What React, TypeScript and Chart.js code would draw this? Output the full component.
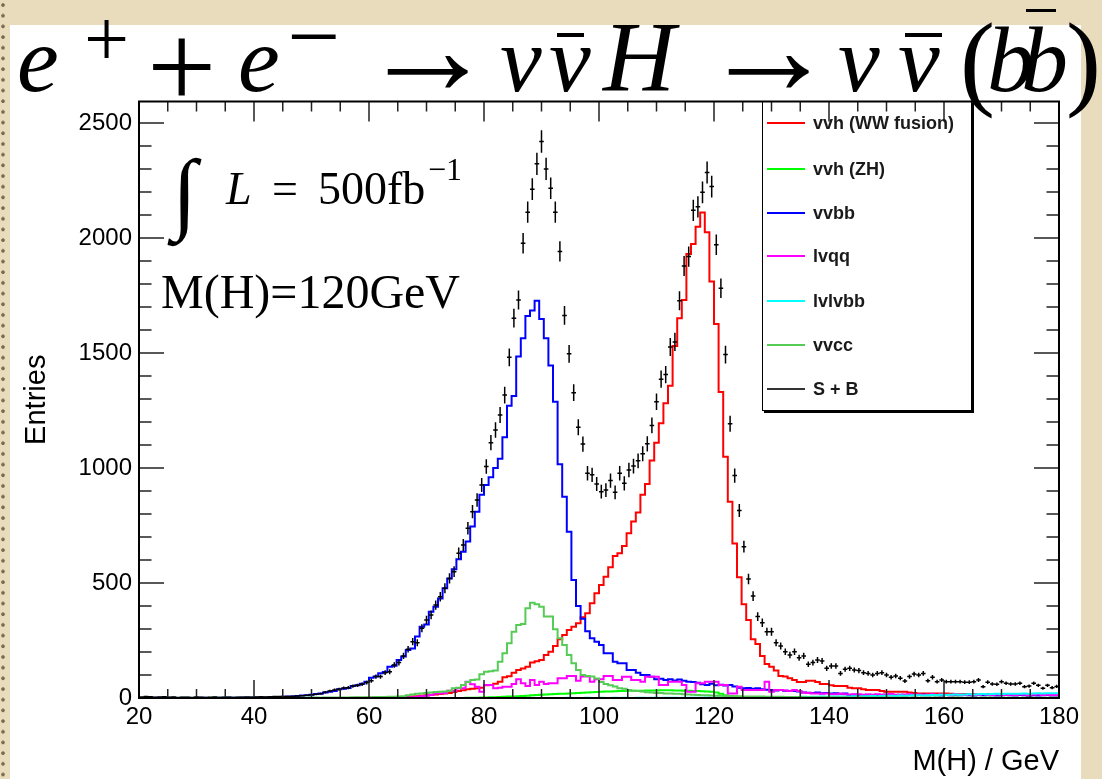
import React, { useEffect, useRef } from "react";
import { Chart, registerables } from "chart.js";

Chart.register(...registerables);

// ---------- axis definition ----------
const X_MIN = 20;
const X_MAX = 180;
const N_BINS = 200;
const Y_MIN = 0;
const Y_MAX = 2593;
const X_STEP = 20;
const Y_STEP = 500;
const xTickValues = [20, 40, 60, 80, 100, 120, 140, 160, 180];
const yTickValues = [0, 500, 1000, 1500, 2000, 2500];

const seriesLabels = ["vvh (WW fusion)", "vvh (ZH)", "vvbb", "lvqq", "lvlvbb", "vvcc", "S + B"];
const seriesColors = ["#ff0000", "#00ff00", "#0000ff", "#ff00ff", "#00ffff", "#55cc55", "#333333"];

// ---------- histogram contents (200 bins of 0.8 GeV from 20 to 180) ----------
const vvhWW = [
  0, 0, 0, 0, 0, 0, 0, 0, 0, 0,
  0, 0, 0, 0, 0, 0, 0, 0, 0, 0,
  0, 0, 0, 0, 0, 0, 0, 0, 0, 0,
  0, 0, 0, 0, 0, 0, 0, 0, 0, 0,
  0, 0, 0, 0, 0, 0, 0, 0, 1, 0,
  0, 1, 1, 1, 2, 2, 3, 3, 4, 5,
  6, 8, 10, 12, 14, 15, 17, 20, 22, 26,
  30, 34, 38, 40, 42, 45, 55, 57, 62, 71,
  90, 95, 110, 122, 128, 136, 154, 160, 165, 187,
  201, 226, 255, 274, 296, 310, 325, 351, 368, 412,
  455, 491, 527, 568, 617, 629, 661, 716, 767, 806,
  883, 930, 1032, 1110, 1194, 1281, 1357, 1530, 1651, 1730,
  1930, 1974, 2049, 2110, 2025, 1810, 1626, 1330, 1049, 853,
  672, 525, 407, 339, 255, 235, 183, 148, 136, 119,
  96, 93, 86, 78, 70, 70, 75, 75, 70, 61,
  61, 55, 52, 52, 52, 45, 42, 42, 38, 35,
  35, 35, 30, 27, 27, 27, 27, 27, 24, 22,
  20, 20, 20, 20, 20, 20, 20, 18, 16, 16,
  17, 16, 16, 15, 16, 16, 17, 15, 16, 16,
  15, 16, 16, 15, 14, 16, 15, 16, 15, 16,
];

const vvhZH = [
  0, 0, 0, 0, 0, 0, 0, 0, 0, 0,
  0, 0, 0, 0, 0, 0, 0, 0, 0, 0,
  0, 0, 0, 0, 0, 0, 0, 0, 0, 0,
  0, 0, 0, 0, 0, 0, 0, 0, 0, 0,
  0, 0, 0, 0, 0, 0, 0, 0, 0, 0,
  0, 0, 0, 0, 0, 0, 0, 0, 0, 0,
  0, 0, 0, 0, 0, 0, 0, 0, 0, 0,
  0, 0, 1, 1, 1, 2, 2, 3, 3, 4,
  5, 6, 7, 8, 9, 10, 12, 13, 14, 15,
  16, 17, 18, 19, 20, 21, 22, 23, 24, 25,
  26, 27, 28, 28, 29, 30, 30, 31, 31, 32,
  32, 33, 33, 33, 34, 34, 34, 33, 33, 32,
  31, 30, 30, 29, 28, 27, 24, 18, 12, 8,
  6, 4, 3, 3, 2, 2, 2, 1, 1, 1,
  1, 1, 1, 1, 1, 0, 1, 0, 0, 1,
  0, 1, 0, 0, 1, 0, 0, 1, 0, 0,
  0, 0, 1, 0, 0, 0, 1, 0, 0, 0,
  0, 0, 0, 1, 0, 0, 0, 0, 1, 0,
  0, 0, 0, 0, 0, 1, 0, 0, 0, 0,
  0, 0, 0, 0, 0, 0, 0, 0, 0, 0,
];

const vvbb = [
  1, 0, 1, 0, 1, 1, 0, 1, 1, 0,
  1, 1, 0, 1, 1, 1, 0, 1, 1, 1,
  2, 1, 1, 2, 1, 2, 2, 1, 2, 3,
  3, 4, 5, 6, 7, 9, 11, 12, 14, 17,
  20, 24, 27, 30, 38, 40, 44, 52, 55, 62,
  71, 88, 93, 108, 113, 136, 140, 165, 180, 209,
  215, 267, 310, 320, 375, 397, 433, 477, 520, 560,
  603, 636, 680, 745, 810, 883, 926, 960, 1000, 1040,
  1134, 1270, 1313, 1484, 1564, 1661, 1684, 1727, 1648, 1564,
  1445, 1288, 1016, 875, 723, 513, 400, 345, 290, 260,
  245, 230, 194, 194, 158, 151, 151, 122, 122, 110,
  100, 100, 92, 81, 84, 78, 81, 76, 80, 75,
  71, 70, 66, 60, 57, 62, 55, 58, 54, 57,
  50, 45, 42, 44, 40, 42, 38, 36, 35, 33,
  35, 32, 30, 30, 28, 24, 23, 22, 24, 21,
  22, 20, 21, 19, 20, 13, 14, 13, 12, 14,
  13, 12, 14, 13, 12, 13, 14, 12, 13, 12,
  13, 14, 12, 13, 12, 11, 13, 12, 14, 12,
  13, 12, 11, 13, 12, 14, 12, 11, 12, 13,
  12, 11, 13, 12, 10, 12, 11, 12, 13, 11,
];

const lvqq = [
  0, 0, 0, 0, 0, 0, 0, 0, 0, 0,
  0, 0, 0, 0, 0, 0, 0, 0, 0, 0,
  0, 0, 0, 0, 0, 0, 0, 0, 0, 0,
  0, 0, 0, 0, 0, 0, 0, 0, 0, 0,
  0, 0, 0, 0, 0, 0, 0, 0, 0, 0,
  1, 1, 1, 2, 2, 2, 2, 3, 3, 3,
  3, 5, 8, 10, 13, 20, 20, 22, 32, 32,
  42, 42, 71, 60, 49, 27, 57, 57, 42, 45,
  49, 49, 61, 81, 64, 52, 78, 57, 71, 61,
  64, 64, 86, 86, 96, 96, 75, 93, 93, 71,
  81, 81, 96, 96, 78, 78, 92, 92, 78, 78,
  71, 92, 92, 92, 57, 57, 71, 71, 71, 57,
  27, 27, 64, 64, 71, 71, 71, 57, 57, 20,
  20, 49, 35, 35, 35, 35, 35, 71, 27, 35,
  35, 33, 30, 35, 30, 24, 22, 20, 20, 18,
  20, 16, 16, 18, 16, 15, 16, 16, 14, 15,
  14, 16, 13, 15, 17, 14, 13, 15, 16, 14,
  15, 13, 14, 16, 13, 15, 14, 12, 15, 14,
  13, 15, 14, 13, 16, 14, 13, 15, 14, 13,
  14, 13, 15, 14, 12, 14, 15, 13, 14, 13,
];

const lvlvbb = [
  0, 0, 0, 0, 0, 0, 0, 0, 0, 0,
  0, 0, 0, 0, 0, 0, 0, 0, 0, 0,
  0, 0, 0, 0, 0, 0, 0, 0, 0, 0,
  0, 0, 0, 0, 0, 0, 0, 0, 0, 0,
  0, 0, 0, 0, 0, 0, 0, 0, 0, 0,
  0, 0, 0, 0, 0, 0, 0, 0, 0, 0,
  0, 0, 0, 0, 0, 0, 0, 0, 0, 0,
  0, 0, 0, 0, 0, 0, 0, 0, 0, 0,
  0, 0, 0, 0, 0, 0, 0, 0, 0, 0,
  0, 0, 0, 0, 1, 0, 0, 0, 1, 0,
  0, 1, 0, 0, 1, 0, 1, 0, 0, 1,
  1, 0, 1, 1, 0, 1, 1, 1, 0, 1,
  1, 1, 1, 1, 2, 1, 1, 2, 1, 2,
  1, 2, 2, 2, 2, 3, 2, 3, 3, 3,
  3, 4, 3, 4, 4, 5, 4, 5, 5, 6,
  5, 6, 6, 7, 6, 7, 8, 7, 8, 8,
  9, 8, 9, 10, 10, 9, 11, 10, 11, 12,
  12, 11, 12, 13, 13, 14, 13, 14, 15, 14,
  15, 16, 15, 16, 17, 16, 17, 18, 17, 18,
  19, 18, 19, 20, 19, 20, 21, 20, 21, 21,
];

const vvcc = [
  1, 0, 1, 1, 0, 1, 0, 1, 1, 0,
  1, 1, 0, 1, 1, 0, 1, 1, 1, 0,
  1, 1, 1, 1, 0, 1, 1, 1, 1, 1,
  1, 1, 1, 2, 1, 1, 2, 1, 2, 2,
  1, 2, 2, 2, 2, 2, 2, 3, 3, 3,
  3, 3, 4, 4, 4, 5, 5, 6, 8, 12,
  15, 18, 20, 22, 24, 26, 27, 28, 32, 42,
  45, 57, 70, 78, 80, 103, 114, 116, 120, 158,
  194, 238, 288, 317, 322, 390, 414, 407, 397, 354,
  354, 299, 260, 230, 187, 151, 122, 100, 96, 93,
  85, 70, 61, 55, 50, 42, 40, 35, 32, 30,
  28, 25, 24, 22, 22, 20, 20, 18, 18, 16,
  15, 14, 13, 12, 12, 11, 10, 10, 9, 9,
  8, 8, 7, 7, 6, 6, 6, 5, 5, 5,
  5, 4, 4, 4, 4, 3, 3, 3, 3, 3,
  3, 3, 3, 2, 3, 2, 2, 3, 2, 2,
  2, 2, 2, 2, 2, 1, 2, 2, 1, 2,
  1, 2, 1, 1, 2, 1, 1, 1, 2, 1,
  1, 1, 1, 1, 1, 1, 1, 1, 1, 1,
  1, 1, 0, 1, 1, 1, 0, 1, 1, 1,
];

const signalPlusBackground = [
  4, 6, 5, 3, 4, 5, 3, 4, 2, 3,
  3, 2, 4, 3, 2, 3, 4, 2, 3, 3,
  2, 3, 3, 4, 3, 4, 5, 4, 5, 6,
  6, 7, 7, 8, 9, 10, 12, 14, 16, 19,
  25, 30, 35, 38, 43, 45, 52, 55, 60, 67,
  75, 93, 93, 110, 114, 143, 154, 183, 212, 245,
  240, 303, 339, 361, 404, 440, 477, 520, 549, 629,
  665, 738, 810, 861, 926, 1006, 1110, 1165, 1230, 1317,
  1481, 1651, 1730, 1977, 2112, 2212, 2322, 2419, 2300, 2216,
  2112, 1941, 1663, 1496, 1327, 1177, 1104, 977, 970, 930,
  897, 904, 945, 894, 977, 933, 991, 1008, 1031, 1062,
  1105, 1185, 1288, 1386, 1406, 1526, 1548, 1727, 1878, 1919,
  2120, 2135, 2198, 2284, 2223, 1970, 1781, 1493, 1192, 967,
  815, 658, 517, 443, 354, 327, 288, 288, 240, 226,
  201, 187, 201, 175, 183, 147, 154, 165, 161, 129,
  139, 139, 107, 125, 129, 122, 119, 110, 107, 100,
  107, 110, 100, 90, 96, 86, 74, 93, 104, 100,
  107, 75, 90, 71, 78, 71, 71, 71, 71, 69,
  69, 71, 78, 49, 69, 61, 60, 71, 64, 61,
  61, 64, 49, 52, 64, 55, 42, 55, 45, 50,
];

const histograms = [vvhWW, vvhZH, vvbb, lvqq, lvlvbb, vvcc];

// ---------- helpers ----------
const binEdge = (i: number) => X_MIN + ((X_MAX - X_MIN) * i) / N_BINS;

const toSteps = (vals: number[]) => {
  const pts = vals.map((v, i) => ({ x: binEdge(i), y: v }));
  pts.push({ x: X_MAX, y: vals[vals.length - 1] });
  return pts;
};

const SANS = "'Liberation Sans', Arial, Helvetica, sans-serif";
const SERIF = "'Liberation Serif', 'Times New Roman', serif";

// S+B crosses with sqrt(N) error bars
const sbPlugin = {
  id: "sbErrors",
  afterDatasetsDraw(chart: any) {
    const { ctx, chartArea, scales } = chart;
    const xs = scales.x;
    const ys = scales.y;
    const ds = chart.data.datasets.find((d: any) => d.label === "S + B");
    if (!ds) return;
    ctx.save();
    ctx.beginPath();
    ctx.rect(chartArea.left, chartArea.top, chartArea.right - chartArea.left, chartArea.bottom - chartArea.top);
    ctx.clip();
    ctx.strokeStyle = "#000";
    ctx.lineWidth = 1.5;
    ctx.beginPath();
    ds.data.forEach((p: any, i: number) => {
      const v = p.y;
      const lo = xs.getPixelForValue(binEdge(i));
      const hi = xs.getPixelForValue(binEdge(i + 1));
      const cx = xs.getPixelForValue(p.x);
      const cy = ys.getPixelForValue(v);
      const e = Math.sqrt(Math.max(v, 0));
      ctx.moveTo(lo, cy);
      ctx.lineTo(hi, cy);
      ctx.moveTo(cx, ys.getPixelForValue(v - e));
      ctx.lineTo(cx, ys.getPixelForValue(v + e));
    });
    ctx.stroke();
    ctx.restore();
  },
};

// ROOT-like frame with inward ticks on all four sides
const framePlugin = {
  id: "rootFrame",
  afterDraw(chart: any) {
    const { ctx, chartArea, scales } = chart;
    const xs = scales.x;
    const ys = scales.y;
    const { left, right, top, bottom } = chartArea;
    ctx.save();
    ctx.strokeStyle = "#222";
    ctx.lineWidth = 1.5;
    ctx.beginPath();
    for (let v = Y_MIN; v <= Y_MAX; v += 100) {
      const py = ys.getPixelForValue(v);
      const len = v % Y_STEP === 0 ? 25 : 12.5;
      ctx.moveTo(left, py);
      ctx.lineTo(left + len, py);
      ctx.moveTo(right, py);
      ctx.lineTo(right - len, py);
    }
    for (let m = X_MIN; m <= X_MAX; m += 5) {
      const px = xs.getPixelForValue(m);
      const major = m % X_STEP === 0;
      ctx.moveTo(px, bottom);
      ctx.lineTo(px, bottom - (major ? 18 : 9));
      ctx.moveTo(px, top);
      ctx.lineTo(px, top + (major ? 20 : 10));
    }
    ctx.stroke();
    ctx.strokeStyle = "#000";
    ctx.lineWidth = 2;
    ctx.strokeRect(left, top, right - left, bottom - top);
    ctx.restore();
  },
};

// glyph placed by baseline
const Glyph = ({
  x, base, size, italic = false, family = SERIF, children, asc = 0.8375, style = {},
}: any) => (
  <span
    style={{
      position: "absolute",
      left: x,
      top: base - asc * size,
      fontSize: size,
      lineHeight: `${size}px`,
      fontFamily: family,
      fontStyle: italic ? "italic" : "normal",
      whiteSpace: "nowrap",
      color: "#000",
      ...style,
    }}
  >
    {children}
  </span>
);

const Bar = ({ x1, x2, y, h = 3.5 }: any) => (
  <div style={{ position: "absolute", left: x1, top: y - h / 2, width: x2 - x1, height: h, background: "#000" }} />
);

export default function App() {
  const canvasRef = useRef<HTMLCanvasElement | null>(null);

  useEffect(() => {
    const canvas = canvasRef.current;
    if (!canvas) return;
    const datasets: any[] = histograms.map((vals, k) => ({
      label: seriesLabels[k],
      data: toSteps(vals),
      borderColor: seriesColors[k],
      backgroundColor: seriesColors[k],
      borderWidth: 2,
      pointRadius: 0,
      fill: false,
      stepped: "after",
      tension: 0,
      order: histograms.length - k,
    }));
    datasets.push({
      label: "S + B",
      data: signalPlusBackground.map((v, i) => ({ x: (binEdge(i) + binEdge(i + 1)) / 2, y: v })),
      borderColor: "#000",
      showLine: false,
      pointRadius: 0,
      order: 0,
    });

    const chart = new Chart(canvas, {
      type: "line",
      data: { datasets },
      options: {
        animation: false,
        responsive: false,
        maintainAspectRatio: false,
        events: [],
        layout: { padding: { left: 10, right: 43, top: 101.5, bottom: 0 } },
        plugins: {
          legend: { display: false },
          tooltip: { enabled: false },
          title: { display: false },
        },
        scales: {
          x: {
            type: "linear",
            min: X_MIN,
            max: X_MAX,
            grid: { display: false, drawTicks: false },
            border: { display: false },
            ticks: {
              autoSkip: false,
              maxRotation: 0,
              padding: 5,
              color: "#000",
              font: { family: SANS, size: 24 },
              callback: (v: any) => String(v),
            },
            afterBuildTicks: (s: any) => {
              s.ticks = xTickValues.map((value) => ({ value }));
            },
            title: {
              display: true,
              text: "M(H) / GeV",
              align: "end",
              color: "#000",
              font: { family: SANS, size: 29 },
              padding: { top: 0, bottom: 0 },
            },
            afterFit: (s: any) => {
              s.height = 81;
            },
          },
          y: {
            type: "linear",
            min: Y_MIN,
            max: Y_MAX,
            grid: { display: false, drawTicks: false },
            border: { display: false },
            ticks: {
              autoSkip: false,
              padding: 7,
              color: "#000",
              font: { family: SANS, size: 24 },
              callback: (v: any) => String(v),
            },
            afterBuildTicks: (s: any) => {
              s.ticks = yTickValues.map((value) => ({ value }));
            },
            title: {
              display: true,
              text: "Entries",
              align: "center",
              color: "#000",
              font: { family: SANS, size: 29 },
              padding: { top: 10, bottom: 0 },
            },
            afterFit: (s: any) => {
              s.width = 129;
            },
          },
        },
      } as any,
      plugins: [sbPlugin, framePlugin],
    });
    return () => chart.destroy();
  }, []);

  const legendTop = 101;
  const legendLeft = 762;
  const rowCenters = [123.3, 168.7, 212.7, 256.3, 300.7, 345, 389.3];

  return (
    <div
      style={{
        position: "absolute",
        left: 0,
        top: 0,
        width: 1102,
        height: 779,
        overflow: "hidden",
        background: "#e9dcbc",
      }}
    >
      {/* perforated left strip */}
      <div
        style={{
          position: "absolute",
          left: 0,
          top: 0,
          width: 10,
          height: 779,
          backgroundImage: "radial-gradient(circle at 3px 5px, #7a6a4e 1.4px, rgba(0,0,0,0) 2.2px)",
          backgroundSize: "10px 10.7px",
        }}
      />
      {/* white slide area */}
      <div style={{ position: "absolute", left: 10, top: 25, width: 1071, height: 754, background: "#fff" }} />

      <canvas
        ref={canvasRef}
        width={1102}
        height={779}
        style={{ position: "absolute", left: 0, top: 0, width: 1102, height: 779 }}
      />

      {/* legend */}
      <div
        style={{
          position: "absolute",
          left: legendLeft,
          top: legendTop,
          width: 210,
          height: 310,
          border: "1px solid #000",
          boxShadow: "2px 2px 0 #000",
          boxSizing: "border-box",
        }}
      />
      {seriesLabels.map((lab, k) => (
        <React.Fragment key={lab}>
          <div
            style={{
              position: "absolute",
              left: 767,
              top: rowCenters[k] - 1,
              width: 38,
              height: 2,
              background: seriesColors[k],
            }}
          />
          <div
            style={{
              position: "absolute",
              left: 813,
              top: rowCenters[k] - 11,
              height: 22,
              lineHeight: "22px",
              fontFamily: SANS,
              fontWeight: "bold",
              fontSize: 18,
              color: "#1a1a1a",
              whiteSpace: "nowrap",
            }}
          >
            {lab}
          </div>
        </React.Fragment>
      ))}

      {/* title: e+ + e- -> nu nubar H -> nu nubar (b bbar) */}
      <Glyph x={17} base={91} size={94} italic>e</Glyph>
      <Glyph x={84} base={66} size={80}>+</Glyph>
      <Glyph x={147} base={108} size={123}>+</Glyph>
      <Glyph x={238} base={91} size={94} italic>e</Glyph>
      <Glyph x={287} base={68} size={94}>−</Glyph>
      <Glyph x={360} base={94} size={135}>→</Glyph>
      <Glyph x={500} base={91} size={94} italic>ν</Glyph>
      <Glyph x={549} base={91} size={94} italic>ν</Glyph>
      <Bar x1={557} x2={584} y={35} />
      <Glyph x={603} base={91} size={100} italic>H</Glyph>
      <Glyph x={701} base={94} size={135}>→</Glyph>
      <Glyph x={838} base={91} size={94} italic>ν</Glyph>
      <Glyph x={898} base={91} size={94} italic>ν</Glyph>
      <Bar x1={905} x2={942} y={35} />
      <Glyph x={960} base={96} size={105}>(</Glyph>
      <Glyph x={987} base={91} size={94} italic>b</Glyph>
      <Glyph x={1021} base={91} size={94} italic>b</Glyph>
      <Bar x1={1026} x2={1056} y={10.5} />
      <Glyph x={1066} base={96} size={105}>)</Glyph>

      {/* luminosity */}
      <Glyph x={172} base={222} size={90}>∫</Glyph>
      <Glyph x={226} base={205} size={46} italic>L</Glyph>
      <Glyph x={272} base={205} size={46}>=</Glyph>
      <Glyph x={318} base={205} size={46}>500fb</Glyph>
      <Glyph x={428} base={180} size={32}>−1</Glyph>

      {/* Higgs mass */}
      <Glyph x={161} base={308} size={48}>M(H)=120GeV</Glyph>
    </div>
  );
}
